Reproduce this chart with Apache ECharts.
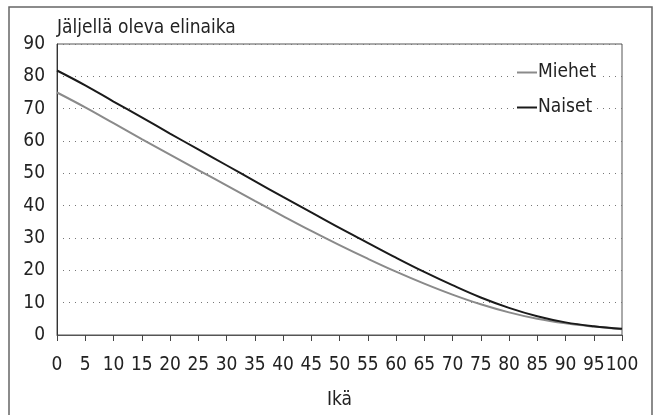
<!DOCTYPE html>
<html>
<head>
<meta charset="utf-8">
<script src="https://cdn.jsdelivr.net/npm/echarts@6/dist/echarts.min.js"></script>
<style>
  html, body { margin: 0; padding: 0; background: #fff; }
  #chart { width: 658px; height: 415px; }
</style>
</head>
<body>
<div id="chart"></div>
<script>
// ikä 0..100, viiden vuoden välein
var ages = [0, 5, 10, 15, 20, 25, 30, 35, 40, 45, 50, 55, 60, 65, 70, 75, 80, 85, 90, 95, 100];
var miehet = [75.0, 70.4, 65.5, 60.6, 55.8, 51.0, 46.3, 41.5, 36.8, 32.2, 27.8, 23.6, 19.6, 15.9, 12.5, 9.5, 7.0, 5.0, 3.6, 2.6, 1.8];
var naiset = [81.8, 77.2, 72.2, 67.3, 62.3, 57.4, 52.5, 47.6, 42.7, 37.9, 33.1, 28.5, 23.9, 19.5, 15.4, 11.6, 8.4, 5.8, 3.9, 2.7, 1.9];
var yTicks = [0, 10, 20, 30, 40, 50, 60, 70, 80, 90];

var font = '"DejaVu Sans Condensed", "Liberation Sans Narrow", sans-serif';

function pairs(vals) {
  var out = [];
  for (var i = 0; i < ages.length; i++) out.push([ages[i], vals[i]]);
  return out;
}

var legendBase = {
  orient: 'vertical',
  left: 515,
  itemWidth: 20,
  itemHeight: 2,
  itemGap: 0,
  padding: [0, 2, 0, 2],
  backgroundColor: '#fff',
  icon: 'rect',
  textStyle: { fontFamily: font, fontSize: 19, color: '#222', padding: [0, 0, 0, -4] }
};

var chart = echarts.init(document.getElementById('chart'));
chart.setOption({
  animation: false,
  backgroundColor: '#fff',
  textStyle: { fontFamily: font },
  title: {
    text: 'Jäljellä oleva elinaika',
    left: 57, top: 19, padding: 0,
    textStyle: { fontFamily: font, fontSize: 19, fontWeight: 'normal', color: '#222' }
  },
  legend: [
    Object.assign({}, legendBase, { top: 63, data: ['Miehet'] }),
    Object.assign({}, legendBase, { top: 98, data: ['Naiset'] })
  ],
  graphic: [{
    type: 'rect',
    shape: { x: 9, y: 7, width: 643, height: 420 },
    style: { fill: null, stroke: '#666', lineWidth: 1.5 },
    silent: true
  }],
  grid: { show: true, left: 57, right: 36, top: 44, bottom: 77, borderColor: '#555', borderWidth: 1 },
  xAxis: {
    type: 'value', min: 0, max: 100, interval: 5,
    name: 'Ikä', nameLocation: 'middle', nameGap: 56,
    nameTextStyle: { fontFamily: font, fontSize: 19, color: '#222' },
    axisLine: { lineStyle: { color: '#555', width: 1 } },
    axisTick: { show: true, length: 6, lineStyle: { color: '#444' } },
    axisLabel: { fontFamily: font, fontSize: 19, color: '#222', margin: 21, showMinLabel: true, showMaxLabel: true, hideOverlap: false },
    splitLine: { show: false }
  },
  yAxis: {
    type: 'value', min: yTicks[0], max: yTicks[yTicks.length - 1], interval: 10,
    axisLine: { show: true, lineStyle: { color: '#333', width: 1 } },
    axisTick: { show: false },
    axisLabel: { fontFamily: font, fontSize: 19, color: '#222', margin: 12 },
    splitLine: { show: true, lineStyle: { color: '#777', type: [1, 5], width: 1.2 } }
  },
  series: [{
    name: 'Miehet', type: 'line', data: pairs(miehet),
    smooth: 0.4, showSymbol: false, symbol: 'none',
    lineStyle: { color: '#8a8a8a', width: 2 }, itemStyle: { color: '#8a8a8a' }, z: 3
  }, {
    name: 'Naiset', type: 'line', data: pairs(naiset),
    smooth: 0.4, showSymbol: false, symbol: 'none',
    lineStyle: { color: '#1a1a1a', width: 2 }, itemStyle: { color: '#1a1a1a' }, z: 4
  }]
});
</script>
</body>
</html>
